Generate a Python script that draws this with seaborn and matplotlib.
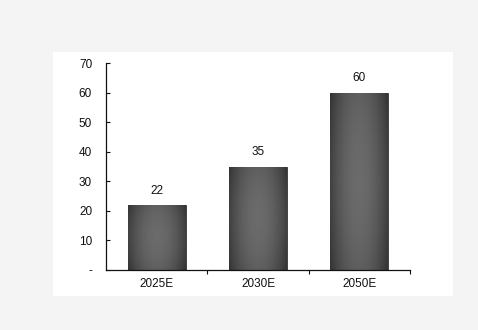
import numpy as np
import pandas as pd
import matplotlib
matplotlib.use("Agg")
import matplotlib.pyplot as plt
from matplotlib.patches import Rectangle
import seaborn as sns

categories = ["2025E", "2030E", "2050E"]
values = [22, 35, 60]
yticks = [0, 10, 20, 30, 40, 50, 60, 70]
ytick_labels = ["-", "10", "20", "30", "40", "50", "60", "70"]

sns.set_theme(style="white")
plt.rcParams['font.family'] = ['Liberation Sans', 'DejaVu Sans']

fig = plt.figure(figsize=(4.78, 3.30), dpi=100)
fig.patch.set_facecolor("#f4f4f4")
fig.add_artist(Rectangle((53/478, 34/330), 400/478, 244/330, transform=fig.transFigure,
                         facecolor="white", edgecolor="none", zorder=0))

ax = fig.add_axes([106/478, 60/330, 304/478, 207/330])
ax.set_facecolor("none")
df = pd.DataFrame({"cat": categories, "val": values})
sns.barplot(data=df, x="cat", y="val", ax=ax, color="#555555", width=0.57,
            edgecolor="#333333", linewidth=0.6, saturation=1)

# gradient shading clipped to each bar
nx, ny = 200, 200
xx = np.linspace(-1, 1, nx)
yy = np.linspace(-1, 1, ny)
X, Y = np.meshgrid(xx, yy)
shade = 0.42 - 0.17 * (X ** 2) - 0.05 * (Y ** 2)
cmap = matplotlib.colors.LinearSegmentedColormap.from_list("g", ["#000000", "#ffffff"])
for p in ax.patches:
    x0, y0 = p.get_x(), p.get_y()
    w, h = p.get_width(), p.get_height()
    im = ax.imshow(shade, cmap=cmap, vmin=0, vmax=1, aspect="auto",
                   extent=[x0, x0 + w, y0, y0 + h], zorder=p.get_zorder() + 0.1,
                   interpolation="bilinear")
    im.set_clip_path(p)
ax.bar_label(ax.containers[0], fmt="%g", padding=6, fontsize=8.5, color="#111111")

ax.set_xlim(-0.5, 2.5)
ax.set_ylim(0, 70)
ax.set_yticks(yticks)
ax.set_yticklabels(ytick_labels, fontsize=8.5, color="#111111")
ax.set_xticks([0, 1, 2])
ax.set_xticklabels(categories, fontsize=8.5, color="#111111")
ax.set_xticks([0.5, 1.5, 2.5], minor=True)
ax.tick_params(axis="x", which="major", bottom=True, length=0, pad=6)
ax.tick_params(axis="x", which="minor", bottom=True, length=3, direction="out", color="#111111", width=0.8)
ax.tick_params(axis="y", left=True, length=3, direction="in", color="#111111", width=0.8, pad=10)
ax.set_xlabel("")
ax.set_ylabel("")
for s in ["top", "right"]:
    ax.spines[s].set_visible(False)
for s in ["left", "bottom"]:
    ax.spines[s].set_color("#111111")
    ax.spines[s].set_linewidth(0.9)

fig.savefig("out.png", dpi=100, facecolor=fig.get_facecolor())
